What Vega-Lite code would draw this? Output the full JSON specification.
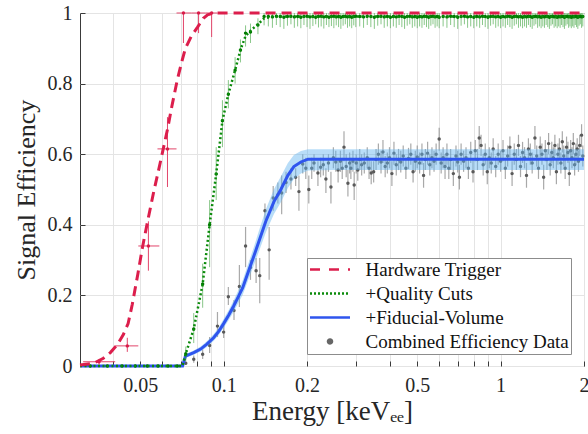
{
"$schema": "https://vega.github.io/schema/vega-lite/v6.json",
"width": 504, "height": 353,
"autosize": {"type": "none"},
"padding": {"left": 80, "top": 13, "right": 4, "bottom": 68},
"background": "white",
"config": {
  "font": "Liberation Serif",
  "view": {"stroke": "#3a3a3a", "strokeWidth": 1},
  "axis": {"labelFont": "Liberation Serif", "titleFont": "Liberation Serif", "labelColor": "#262626", "titleColor": "#262626", "titleFontWeight": "normal", "gridColor": "#e4e4e4", "gridWidth": 1, "domain": false, "tickColor": "#3a3a3a", "tickSize": -5, "labelFontSize": 20},
  "axisX": {"labelOverlap": false, "labelFlush": false, "labelPadding": 14, "titleFontSize": 27, "titlePadding": 3},
  "axisY": {"labelPadding": 13, "titleFontSize": 26, "titlePadding": 8}
},
"datasets": {
  "trigfit": [
    {"e":0.0303,"y":0.003},{"e":0.034,"y":0.008},{"e":0.0368,"y":0.022},{"e":0.039,"y":0.038},{"e":0.0413,"y":0.06},{"e":0.0435,"y":0.09},{"e":0.0452,"y":0.12},{"e":0.0468,"y":0.175},{"e":0.049,"y":0.26},{"e":0.0509,"y":0.335},{"e":0.053,"y":0.405},{"e":0.0558,"y":0.49},{"e":0.059,"y":0.575},{"e":0.0627,"y":0.67},{"e":0.065,"y":0.735},{"e":0.068,"y":0.81},{"e":0.0705,"y":0.86},{"e":0.0728,"y":0.9},{"e":0.0765,"y":0.935},{"e":0.0805,"y":0.96},{"e":0.0845,"y":0.985},{"e":0.0875,"y":0.995},{"e":0.092,"y":1},{"e":2,"y":1}
  ],
  "trig": [
    {"e":0.0355,"y":0.012,"xl":0.0311,"xh":0.0406,"l":0.004,"h":0.02},
    {"e":0.0449,"y":0.057,"xl":0.0406,"xh":0.0492,"l":0.04,"h":0.08},
    {"e":0.0535,"y":0.34,"xl":0.0492,"xh":0.0586,"l":0.27,"h":0.41},
    {"e":0.0627,"y":0.615,"xl":0.0577,"xh":0.0676,"l":0.507,"h":0.705},
    {"e":0.0716,"y":1,"xl":0.0676,"xh":0.0765,"l":0.915,"h":1},
    {"e":0.0812,"y":1,"xl":0.0765,"xh":0.086,"l":0.943,"h":1},
    {"e":0.0905,"y":1,"xl":0.086,"xh":0.095,"l":0.932,"h":1}
  ],
  "qcfit": [
    {"e":0.0303,"y":0},{"e":0.071,"y":0},{"e":0.073,"y":0.035},{"e":0.078,"y":0.105},{"e":0.084,"y":0.232},{"e":0.089,"y":0.4},{"e":0.094,"y":0.544},{"e":0.099,"y":0.695},{"e":0.104,"y":0.77},{"e":0.11,"y":0.838},{"e":0.115,"y":0.895},{"e":0.12,"y":0.935},{"e":0.127,"y":0.955},{"e":0.133,"y":0.968},{"e":0.14,"y":0.985},{"e":0.15,"y":0.99},{"e":2,"y":0.99}
  ],
  "qc": [
    {"e":0.033,"y":0,"l":0,"h":0},{"e":0.038,"y":0,"l":0,"h":0},{"e":0.043,"y":0,"l":0,"h":0},{"e":0.048,"y":0,"l":0,"h":0},{"e":0.053,"y":0,"l":0,"h":0},{"e":0.058,"y":0,"l":0,"h":0},{"e":0.063,"y":0,"l":0,"h":0},{"e":0.068,"y":0,"l":0,"h":0},
    {"e":0.073,"y":0.035,"l":0.015,"h":0.055},{"e":0.078,"y":0.105,"l":0.065,"h":0.15},{"e":0.084,"y":0.232,"l":0.165,"h":0.29},{"e":0.089,"y":0.4,"l":0.28,"h":0.47},{"e":0.094,"y":0.544,"l":0.47,"h":0.62},{"e":0.099,"y":0.695,"l":0.62,"h":0.753},{"e":0.104,"y":0.77,"l":0.73,"h":0.81},{"e":0.11,"y":0.838,"l":0.8,"h":0.875},{"e":0.115,"y":0.895,"l":0.86,"h":0.925},{"e":0.12,"y":0.943,"l":0.905,"h":0.965},{"e":0.125,"y":0.946,"l":0.915,"h":0.97},{"e":0.133,"y":0.966,"l":0.94,"h":0.985},{"e":0.14,"y":0.99,"l":0.965,"h":1},
    {"e":0.145,"y":0.99,"l":0.962,"h":1},{"e":0.15,"y":0.989,"l":0.958,"h":1},{"e":0.155,"y":0.991,"l":0.966,"h":1},{"e":0.16,"y":0.99,"l":0.96,"h":1},{"e":0.165,"y":0.988,"l":0.955,"h":1},{"e":0.17,"y":0.99,"l":0.964,"h":1},{"e":0.175,"y":0.991,"l":0.968,"h":1},{"e":0.18,"y":0.989,"l":0.958,"h":1},{"e":0.185,"y":0.99,"l":0.962,"h":1},{"e":0.19,"y":0.988,"l":0.957,"h":1},
    {"e":0.195,"y":0.99,"l":0.966,"h":1},{"e":0.2,"y":0.991,"l":0.96,"h":1},{"e":0.205,"y":0.989,"l":0.955,"h":1},{"e":0.21,"y":0.99,"l":0.963,"h":1},{"e":0.215,"y":0.988,"l":0.968,"h":1},{"e":0.22,"y":0.99,"l":0.959,"h":1},{"e":0.225,"y":0.991,"l":0.962,"h":1},{"e":0.23,"y":0.989,"l":0.956,"h":1},{"e":0.235,"y":0.99,"l":0.966,"h":1},{"e":0.24,"y":0.988,"l":0.96,"h":1},
    {"e":0.245,"y":0.99,"l":0.963,"h":1},{"e":0.25,"y":0.991,"l":0.957,"h":1},{"e":0.255,"y":0.989,"l":0.965,"h":1},{"e":0.26,"y":0.99,"l":0.96,"h":1},{"e":0.265,"y":0.988,"l":0.955,"h":1},{"e":0.27,"y":0.99,"l":0.964,"h":1},{"e":0.275,"y":0.991,"l":0.968,"h":1},{"e":0.28,"y":0.989,"l":0.958,"h":1},{"e":0.285,"y":0.99,"l":0.962,"h":1},{"e":0.29,"y":0.988,"l":0.957,"h":1},
    {"e":0.295,"y":0.99,"l":0.965,"h":1},{"e":0.3,"y":0.991,"l":0.96,"h":1},{"e":0.31,"y":0.99,"l":0.962,"h":1},{"e":0.32,"y":0.989,"l":0.958,"h":1},{"e":0.33,"y":0.991,"l":0.966,"h":1},{"e":0.34,"y":0.99,"l":0.96,"h":1},{"e":0.35,"y":0.988,"l":0.955,"h":1},{"e":0.36,"y":0.99,"l":0.964,"h":1},{"e":0.37,"y":0.991,"l":0.968,"h":1},{"e":0.38,"y":0.989,"l":0.958,"h":1},
    {"e":0.39,"y":0.99,"l":0.962,"h":1},{"e":0.4,"y":0.988,"l":0.957,"h":1},{"e":0.41,"y":0.99,"l":0.962,"h":1},{"e":0.42,"y":0.989,"l":0.958,"h":1},{"e":0.43,"y":0.991,"l":0.966,"h":1},{"e":0.44,"y":0.99,"l":0.96,"h":1},{"e":0.45,"y":0.988,"l":0.955,"h":1},{"e":0.46,"y":0.99,"l":0.964,"h":1},{"e":0.47,"y":0.991,"l":0.968,"h":1},{"e":0.48,"y":0.989,"l":0.958,"h":1},
    {"e":0.49,"y":0.99,"l":0.962,"h":1},{"e":0.5,"y":0.988,"l":0.957,"h":1},{"e":0.51,"y":0.99,"l":0.962,"h":1},{"e":0.52,"y":0.989,"l":0.958,"h":1},{"e":0.53,"y":0.991,"l":0.966,"h":1},{"e":0.54,"y":0.99,"l":0.96,"h":1},{"e":0.55,"y":0.988,"l":0.955,"h":1},{"e":0.56,"y":0.99,"l":0.964,"h":1},{"e":0.57,"y":0.991,"l":0.968,"h":1},{"e":0.58,"y":0.989,"l":0.958,"h":1},
    {"e":0.59,"y":0.99,"l":0.962,"h":1},{"e":0.6,"y":0.988,"l":0.957,"h":1},{"e":0.62,"y":0.99,"l":0.962,"h":1},{"e":0.64,"y":0.989,"l":0.958,"h":1},{"e":0.66,"y":0.991,"l":0.966,"h":1},{"e":0.68,"y":0.99,"l":0.96,"h":1},{"e":0.7,"y":0.988,"l":0.955,"h":1},{"e":0.72,"y":0.99,"l":0.964,"h":1},{"e":0.74,"y":0.991,"l":0.968,"h":1},{"e":0.76,"y":0.989,"l":0.958,"h":1},
    {"e":0.78,"y":0.99,"l":0.962,"h":1},{"e":0.8,"y":0.988,"l":0.957,"h":1},{"e":0.82,"y":0.99,"l":0.962,"h":1},{"e":0.84,"y":0.989,"l":0.958,"h":1},{"e":0.86,"y":0.991,"l":0.966,"h":1},{"e":0.88,"y":0.99,"l":0.96,"h":1},{"e":0.9,"y":0.988,"l":0.955,"h":1},{"e":0.92,"y":0.99,"l":0.964,"h":1},{"e":0.94,"y":0.991,"l":0.968,"h":1},{"e":0.96,"y":0.989,"l":0.958,"h":1},
    {"e":0.98,"y":0.99,"l":0.962,"h":1},{"e":1.0,"y":0.988,"l":0.957,"h":1},{"e":1.02,"y":0.99,"l":0.962,"h":1},{"e":1.04,"y":0.989,"l":0.958,"h":1},{"e":1.06,"y":0.991,"l":0.966,"h":1},{"e":1.08,"y":0.99,"l":0.96,"h":1},{"e":1.1,"y":0.988,"l":0.955,"h":1},{"e":1.12,"y":0.99,"l":0.964,"h":1},{"e":1.14,"y":0.991,"l":0.968,"h":1},{"e":1.16,"y":0.989,"l":0.958,"h":1},
    {"e":1.18,"y":0.99,"l":0.962,"h":1},{"e":1.2,"y":0.988,"l":0.957,"h":1},{"e":1.22,"y":0.99,"l":0.962,"h":1},{"e":1.24,"y":0.989,"l":0.958,"h":1},{"e":1.26,"y":0.991,"l":0.966,"h":1},{"e":1.28,"y":0.99,"l":0.96,"h":1},{"e":1.3,"y":0.988,"l":0.955,"h":1},{"e":1.32,"y":0.99,"l":0.964,"h":1},{"e":1.34,"y":0.991,"l":0.968,"h":1},{"e":1.36,"y":0.989,"l":0.958,"h":1},
    {"e":1.38,"y":0.99,"l":0.962,"h":1},{"e":1.4,"y":0.988,"l":0.957,"h":1},{"e":1.42,"y":0.99,"l":0.962,"h":1},{"e":1.44,"y":0.989,"l":0.958,"h":1},{"e":1.46,"y":0.991,"l":0.966,"h":1},{"e":1.48,"y":0.99,"l":0.96,"h":1},{"e":1.5,"y":0.988,"l":0.955,"h":1},{"e":1.52,"y":0.99,"l":0.964,"h":1},{"e":1.54,"y":0.991,"l":0.968,"h":1},{"e":1.56,"y":0.989,"l":0.958,"h":1},
    {"e":1.58,"y":0.99,"l":0.962,"h":1},{"e":1.6,"y":0.988,"l":0.957,"h":1},{"e":1.62,"y":0.99,"l":0.962,"h":1},{"e":1.64,"y":0.989,"l":0.958,"h":1},{"e":1.66,"y":0.991,"l":0.966,"h":1},{"e":1.68,"y":0.99,"l":0.96,"h":1},{"e":1.7,"y":0.988,"l":0.955,"h":1},{"e":1.72,"y":0.99,"l":0.964,"h":1},{"e":1.74,"y":0.991,"l":0.968,"h":1},{"e":1.76,"y":0.989,"l":0.958,"h":1},
    {"e":1.78,"y":0.99,"l":0.962,"h":1},{"e":1.8,"y":0.988,"l":0.957,"h":1},{"e":1.82,"y":0.99,"l":0.962,"h":1},{"e":1.84,"y":0.989,"l":0.958,"h":1},{"e":1.86,"y":0.991,"l":0.966,"h":1},{"e":1.88,"y":0.99,"l":0.96,"h":1},{"e":1.9,"y":0.988,"l":0.955,"h":1},{"e":1.92,"y":0.99,"l":0.964,"h":1},{"e":1.94,"y":0.991,"l":0.968,"h":1},{"e":1.96,"y":0.989,"l":0.958,"h":1},{"e":1.98,"y":0.99,"l":0.962,"h":1}
  ],
  "fv": [
    {"e":0.0303,"y":0,"l":0,"h":0},{"e":0.0711,"y":0,"l":0,"h":0},{"e":0.0728,"y":0.028,"l":0.023,"h":0.033},{"e":0.078,"y":0.038,"l":0.032,"h":0.044},{"e":0.0826,"y":0.048,"l":0.041,"h":0.055},{"e":0.087,"y":0.062,"l":0.054,"h":0.07},{"e":0.092,"y":0.08,"l":0.071,"h":0.09},{"e":0.096,"y":0.098,"l":0.088,"h":0.109},{"e":0.1,"y":0.12,"l":0.108,"h":0.133},{"e":0.1045,"y":0.145,"l":0.131,"h":0.159},{"e":0.1087,"y":0.17,"l":0.154,"h":0.186},{"e":0.1128,"y":0.195,"l":0.177,"h":0.213},{"e":0.1172,"y":0.222,"l":0.202,"h":0.243},{"e":0.1225,"y":0.265,"l":0.242,"h":0.288},{"e":0.1284,"y":0.31,"l":0.284,"h":0.336},{"e":0.135,"y":0.36,"l":0.331,"h":0.39},{"e":0.142,"y":0.41,"l":0.378,"h":0.443},{"e":0.1518,"y":0.465,"l":0.43,"h":0.5},{"e":0.1609,"y":0.5,"l":0.464,"h":0.537},{"e":0.1706,"y":0.54,"l":0.504,"h":0.575},{"e":0.1793,"y":0.565,"l":0.53,"h":0.598},{"e":0.1901,"y":0.578,"l":0.545,"h":0.609},{"e":0.2016,"y":0.586,"l":0.554,"h":0.614},{"e":0.25,"y":0.586,"l":0.555,"h":0.614},{"e":2,"y":0.586,"l":0.555,"h":0.614}
  ],
  "comb": [
    {"e":0.073,"y":0.008,"l":0.003,"h":0.013},{"e":0.078,"y":0.019,"l":0.009,"h":0.03},{"e":0.084,"y":0.033,"l":0.02,"h":0.047},{"e":0.089,"y":0.058,"l":0.037,"h":0.082},{"e":0.095,"y":0.113,"l":0.082,"h":0.153},{"e":0.1,"y":0.096,"l":0.079,"h":0.122},{"e":0.104,"y":0.196,"l":0.173,"h":0.224},{"e":0.109,"y":0.157,"l":0.13,"h":0.187},{"e":0.114,"y":0.225,"l":0.167,"h":0.286},{"e":0.12,"y":0.34,"l":0.28,"h":0.394},
    {"e":0.125,"y":0.279,"l":0.244,"h":0.3},{"e":0.131,"y":0.27,"l":0.235,"h":0.306},{"e":0.135,"y":0.256,"l":0.178,"h":0.306},{"e":0.141,"y":0.44,"l":0.414,"h":0.46},{"e":0.146,"y":0.329,"l":0.244,"h":0.394},{"e":0.151,"y":0.476,"l":0.44,"h":0.51},{"e":0.157,"y":0.485,"l":0.46,"h":0.52},{"e":0.162,"y":0.49,"l":0.43,"h":0.54},{"e":0.168,"y":0.52,"l":0.49,"h":0.55},{"e":0.175,"y":0.53,"l":0.5,"h":0.56},
    {"e":0.182,"y":0.535,"l":0.51,"h":0.56},{"e":0.187,"y":0.494,"l":0.44,"h":0.54},{"e":0.193,"y":0.572,"l":0.545,"h":0.6},{"e":0.198,"y":0.56,"l":0.53,"h":0.59},{"e":0.203,"y":0.5,"l":0.46,"h":0.54},{"e":0.208,"y":0.56,"l":0.53,"h":0.59},{"e":0.212,"y":0.575,"l":0.55,"h":0.6},{"e":0.219,"y":0.547,"l":0.51,"h":0.58},{"e":0.224,"y":0.563,"l":0.535,"h":0.59},{"e":0.229,"y":0.57,"l":0.54,"h":0.6},
    {"e":0.234,"y":0.53,"l":0.49,"h":0.56},{"e":0.239,"y":0.575,"l":0.55,"h":0.6},{"e":0.244,"y":0.507,"l":0.46,"h":0.55},{"e":0.249,"y":0.59,"l":0.56,"h":0.62},{"e":0.254,"y":0.578,"l":0.55,"h":0.61},{"e":0.259,"y":0.555,"l":0.52,"h":0.59},{"e":0.264,"y":0.58,"l":0.55,"h":0.61},{"e":0.268,"y":0.56,"l":0.53,"h":0.59},{"e":0.272,"y":0.62,"l":0.58,"h":0.665},{"e":0.277,"y":0.565,"l":0.535,"h":0.6},
    {"e":0.281,"y":0.518,"l":0.48,"h":0.555},{"e":0.285,"y":0.575,"l":0.545,"h":0.605},{"e":0.288,"y":0.56,"l":0.53,"h":0.59},{"e":0.293,"y":0.58,"l":0.55,"h":0.61},{"e":0.296,"y":0.513,"l":0.47,"h":0.55},{"e":0.301,"y":0.575,"l":0.545,"h":0.6},{"e":0.305,"y":0.555,"l":0.525,"h":0.585},{"e":0.31,"y":0.585,"l":0.555,"h":0.615},{"e":0.315,"y":0.57,"l":0.54,"h":0.6},{"e":0.322,"y":0.575,"l":0.545,"h":0.605},
    {"e":0.33,"y":0.59,"l":0.56,"h":0.62},{"e":0.335,"y":0.56,"l":0.53,"h":0.59},{"e":0.341,"y":0.547,"l":0.515,"h":0.58},{"e":0.348,"y":0.55,"l":0.52,"h":0.58},{"e":0.355,"y":0.585,"l":0.555,"h":0.615},{"e":0.362,"y":0.6,"l":0.57,"h":0.63},{"e":0.37,"y":0.578,"l":0.545,"h":0.61},{"e":0.376,"y":0.606,"l":0.575,"h":0.64},{"e":0.383,"y":0.565,"l":0.535,"h":0.595},{"e":0.39,"y":0.575,"l":0.545,"h":0.605},
    {"e":0.397,"y":0.59,"l":0.56,"h":0.62},{"e":0.405,"y":0.545,"l":0.51,"h":0.58},{"e":0.412,"y":0.603,"l":0.57,"h":0.635},{"e":0.42,"y":0.57,"l":0.54,"h":0.6},{"e":0.428,"y":0.585,"l":0.555,"h":0.615},{"e":0.436,"y":0.578,"l":0.548,"h":0.61},{"e":0.445,"y":0.595,"l":0.565,"h":0.625},{"e":0.455,"y":0.56,"l":0.53,"h":0.59},{"e":0.465,"y":0.588,"l":0.558,"h":0.618},{"e":0.474,"y":0.6,"l":0.57,"h":0.63},
    {"e":0.483,"y":0.55,"l":0.52,"h":0.58},{"e":0.492,"y":0.58,"l":0.55,"h":0.61},{"e":0.5,"y":0.592,"l":0.56,"h":0.625},{"e":0.51,"y":0.575,"l":0.545,"h":0.605},{"e":0.52,"y":0.6,"l":0.57,"h":0.63},{"e":0.527,"y":0.54,"l":0.505,"h":0.575},{"e":0.535,"y":0.585,"l":0.555,"h":0.615},{"e":0.545,"y":0.603,"l":0.57,"h":0.635},{"e":0.555,"y":0.57,"l":0.54,"h":0.6},{"e":0.565,"y":0.59,"l":0.56,"h":0.62},
    {"e":0.575,"y":0.58,"l":0.55,"h":0.61},{"e":0.585,"y":0.6,"l":0.57,"h":0.63},{"e":0.6,"y":0.643,"l":0.61,"h":0.675},{"e":0.61,"y":0.575,"l":0.545,"h":0.605},{"e":0.62,"y":0.59,"l":0.56,"h":0.62},{"e":0.63,"y":0.565,"l":0.53,"h":0.6},{"e":0.64,"y":0.6,"l":0.57,"h":0.63},{"e":0.65,"y":0.56,"l":0.53,"h":0.59},{"e":0.66,"y":0.585,"l":0.555,"h":0.615},{"e":0.675,"y":0.545,"l":0.51,"h":0.58},
    {"e":0.69,"y":0.595,"l":0.565,"h":0.625},{"e":0.7,"y":0.578,"l":0.548,"h":0.61},{"e":0.71,"y":0.535,"l":0.5,"h":0.57},{"e":0.72,"y":0.6,"l":0.57,"h":0.63},{"e":0.735,"y":0.58,"l":0.55,"h":0.61},{"e":0.75,"y":0.59,"l":0.56,"h":0.62},{"e":0.765,"y":0.56,"l":0.53,"h":0.59},{"e":0.78,"y":0.605,"l":0.575,"h":0.635},{"e":0.795,"y":0.55,"l":0.52,"h":0.585},{"e":0.81,"y":0.61,"l":0.58,"h":0.64},
    {"e":0.825,"y":0.585,"l":0.555,"h":0.615},{"e":0.837,"y":0.646,"l":0.615,"h":0.68},{"e":0.85,"y":0.625,"l":0.595,"h":0.655},{"e":0.865,"y":0.57,"l":0.54,"h":0.6},{"e":0.88,"y":0.6,"l":0.57,"h":0.63},{"e":0.895,"y":0.55,"l":0.515,"h":0.585},{"e":0.91,"y":0.59,"l":0.56,"h":0.62},{"e":0.925,"y":0.575,"l":0.545,"h":0.605},{"e":0.94,"y":0.615,"l":0.585,"h":0.645},{"e":0.96,"y":0.565,"l":0.535,"h":0.595},
    {"e":0.98,"y":0.6,"l":0.57,"h":0.63},{"e":1.0,"y":0.58,"l":0.55,"h":0.61},{"e":1.02,"y":0.61,"l":0.58,"h":0.64},{"e":1.04,"y":0.56,"l":0.53,"h":0.59},{"e":1.06,"y":0.595,"l":0.565,"h":0.625},{"e":1.08,"y":0.62,"l":0.59,"h":0.65},{"e":1.1,"y":0.545,"l":0.51,"h":0.58},{"e":1.12,"y":0.6,"l":0.57,"h":0.63},{"e":1.14,"y":0.585,"l":0.555,"h":0.615},{"e":1.16,"y":0.625,"l":0.595,"h":0.655},
    {"e":1.18,"y":0.565,"l":0.535,"h":0.595},{"e":1.2,"y":0.605,"l":0.575,"h":0.635},{"e":1.22,"y":0.59,"l":0.56,"h":0.62},{"e":1.24,"y":0.54,"l":0.505,"h":0.575},{"e":1.26,"y":0.615,"l":0.585,"h":0.645},{"e":1.28,"y":0.6,"l":0.57,"h":0.63},{"e":1.3,"y":0.575,"l":0.545,"h":0.605},{"e":1.33,"y":0.646,"l":0.615,"h":0.68},{"e":1.35,"y":0.595,"l":0.565,"h":0.625},{"e":1.37,"y":0.56,"l":0.53,"h":0.59},
    {"e":1.39,"y":0.62,"l":0.59,"h":0.65},{"e":1.41,"y":0.6,"l":0.57,"h":0.63},{"e":1.43,"y":0.535,"l":0.5,"h":0.57},{"e":1.45,"y":0.61,"l":0.58,"h":0.64},{"e":1.47,"y":0.585,"l":0.555,"h":0.615},{"e":1.49,"y":0.63,"l":0.6,"h":0.66},{"e":1.51,"y":0.57,"l":0.54,"h":0.6},{"e":1.53,"y":0.605,"l":0.575,"h":0.635},{"e":1.55,"y":0.59,"l":0.56,"h":0.62},{"e":1.57,"y":0.625,"l":0.595,"h":0.655},
    {"e":1.59,"y":0.55,"l":0.515,"h":0.585},{"e":1.61,"y":0.6,"l":0.57,"h":0.63},{"e":1.63,"y":0.615,"l":0.585,"h":0.645},{"e":1.65,"y":0.575,"l":0.545,"h":0.605},{"e":1.67,"y":0.635,"l":0.605,"h":0.665},{"e":1.69,"y":0.595,"l":0.565,"h":0.625},{"e":1.71,"y":0.56,"l":0.53,"h":0.59},{"e":1.73,"y":0.62,"l":0.59,"h":0.65},{"e":1.75,"y":0.605,"l":0.575,"h":0.635},{"e":1.77,"y":0.545,"l":0.51,"h":0.58},
    {"e":1.79,"y":0.61,"l":0.58,"h":0.64},{"e":1.81,"y":0.59,"l":0.56,"h":0.62},{"e":1.83,"y":0.63,"l":0.6,"h":0.66},{"e":1.85,"y":0.57,"l":0.54,"h":0.6},{"e":1.87,"y":0.6,"l":0.57,"h":0.63},{"e":1.89,"y":0.615,"l":0.585,"h":0.645},{"e":1.91,"y":0.58,"l":0.55,"h":0.61},{"e":1.93,"y":0.625,"l":0.595,"h":0.655},{"e":1.96,"y":0.654,"l":0.62,"h":0.685},{"e":1.98,"y":0.595,"l":0.565,"h":0.625}
  ]
},
"encoding": {
  "x": {"field": "e", "type": "quantitative", "title": "Energy [keVₑₑ]",
        "scale": {"type": "log", "domain": [0.0303, 2], "nice": false},
        "axis": {"values": [0.04,0.05,0.06,0.07,0.08,0.09,0.1,0.2,0.3,0.4,0.5,0.6,0.7,0.8,0.9,1,2],
                 "labelExpr": "indexof([0.05,0.1,0.2,0.5,1,2], datum.value) >= 0 ? format(datum.value, '~g') : ''"}},
  "y": {"field": "y", "type": "quantitative", "title": "Signal Efficiency",
        "scale": {"domain": [0, 1], "nice": false},
        "axis": {"values": [0,0.2,0.4,0.6,0.8,1],
                 "labelExpr": "datum.value == 0 ? '0' : datum.value == 1 ? '1' : format(datum.value, '.1f')"}}
},
"layer": [
  {"data": {"name": "comb"}, "mark": {"type": "rule", "color": "#8c8c8c", "opacity": 0.75, "strokeWidth": 1.2},
   "encoding": {"y": {"field": "l", "type": "quantitative", "title": "Signal Efficiency", "scale": {"domain": [0, 1], "nice": false},
      "axis": {"values": [0,0.2,0.4,0.6,0.8,1], "labelExpr": "datum.value == 0 ? '0' : datum.value == 1 ? '1' : format(datum.value, '.1f')"}}, "y2": {"field": "h"}}},
  {"data": {"name": "comb"}, "mark": {"type": "circle", "color": "#5a5a5a", "size": 12, "opacity": 1}, "encoding": {}},
  {"data": {"name": "fv"}, "mark": {"type": "area", "color": "#62b4f0", "opacity": 0.45},
   "encoding": {"y": {"field": "l", "type": "quantitative", "title": "Signal Efficiency", "scale": {"domain": [0, 1], "nice": false},
      "axis": {"values": [0,0.2,0.4,0.6,0.8,1], "labelExpr": "datum.value == 0 ? '0' : datum.value == 1 ? '1' : format(datum.value, '.1f')"}}, "y2": {"field": "h"}}},
  {"data": {"name": "fv"}, "mark": {"type": "line", "strokeWidth": 3},
   "encoding": {"color": {"datum": "+Fiducial-Volume", "type": "nominal",
      "scale": {"domain": ["Hardware Trigger", "+Quality Cuts", "+Fiducial-Volume", "Combined Efficiency Data"], "range": ["#dc1e4c", "#0a8a0a", "#2f55ee", "#666666"]},
      "legend": {"title": null, "orient": "none", "legendX": 227, "legendY": 245,
        "symbolType": "M-4,0L4,0", "symbolSize": 100, "symbolStrokeWidth": 2.5,
        "labelFont": "Liberation Serif", "labelFontSize": 19, "labelColor": "#111111", "labelLimit": 400,
        "padding": 2, "rowPadding": 4, "symbolOffset": 11.5, "labelOffset": 26,
        "strokeColor": "#8c8c8c", "fillColor": "white", "cornerRadius": 0,
        "encode": {"symbols": {"update": {
          "shape": {"signal": "datum.value === 'Combined Efficiency Data' ? 'M-0.4,0A0.4,0.4 0 1,0 0.4,0A0.4,0.4 0 1,0 -0.4,0Z' : 'M-4,0L4,0'"},
          "stroke": {"signal": "datum.value === 'Hardware Trigger' ? '#dc1e4c' : datum.value === '+Quality Cuts' ? '#0a8a0a' : datum.value === '+Fiducial-Volume' ? '#0010e8' : 'transparent'"},
          "fill": {"signal": "datum.value === 'Combined Efficiency Data' ? '#666666' : 'transparent'"},
          "strokeDash": {"signal": "datum.value === 'Hardware Trigger' ? [10,9] : datum.value === '+Quality Cuts' ? [2,2] : [1,0]"},
          "strokeWidth": {"value": 2.5},
          "opacity": {"value": 1}
        }}}}}}},
  {"data": {"name": "qc"}, "mark": {"type": "rule", "color": "#3aa23a", "opacity": 0.6, "strokeWidth": 1},
   "encoding": {"y": {"field": "l", "type": "quantitative", "title": "Signal Efficiency", "scale": {"domain": [0, 1], "nice": false},
      "axis": {"values": [0,0.2,0.4,0.6,0.8,1], "labelExpr": "datum.value == 0 ? '0' : datum.value == 1 ? '1' : format(datum.value, '.1f')"}}, "y2": {"field": "h"}}},
  {"data": {"name": "qc"}, "mark": {"type": "circle", "color": "#007a00", "size": 12, "opacity": 1}, "encoding": {}},
  {"data": {"name": "qcfit"}, "mark": {"type": "line", "color": "#0a8a0a", "strokeWidth": 2.5, "strokeDash": [2, 2.5]}, "encoding": {}},
  {"data": {"name": "trig"}, "mark": {"type": "rule", "color": "#e2456a", "strokeWidth": 1},
   "encoding": {"y": {"field": "l", "type": "quantitative", "title": "Signal Efficiency", "scale": {"domain": [0, 1], "nice": false},
      "axis": {"values": [0,0.2,0.4,0.6,0.8,1], "labelExpr": "datum.value == 0 ? '0' : datum.value == 1 ? '1' : format(datum.value, '.1f')"}}, "y2": {"field": "h"}}},
  {"data": {"name": "trig"}, "mark": {"type": "rule", "color": "#e2456a", "strokeWidth": 1},
   "encoding": {"x": {"field": "xl", "type": "quantitative", "title": "Energy [keVₑₑ]", "scale": {"type": "log", "domain": [0.0303, 2], "nice": false},
      "axis": {"values": [0.04,0.05,0.06,0.07,0.08,0.09,0.1,0.2,0.3,0.4,0.5,0.6,0.7,0.8,0.9,1,2], "labelExpr": "indexof([0.05,0.1,0.2,0.5,1,2], datum.value) >= 0 ? format(datum.value, '~g') : ''"}}, "x2": {"field": "xh"}}},
  {"data": {"name": "trig"}, "mark": {"type": "circle", "color": "#d81b48", "size": 12, "opacity": 1}, "encoding": {}},
  {"data": {"name": "trigfit"}, "mark": {"type": "line", "color": "#dc1e4c", "strokeWidth": 3, "strokeDash": [10, 6]}, "encoding": {}}
]
}
